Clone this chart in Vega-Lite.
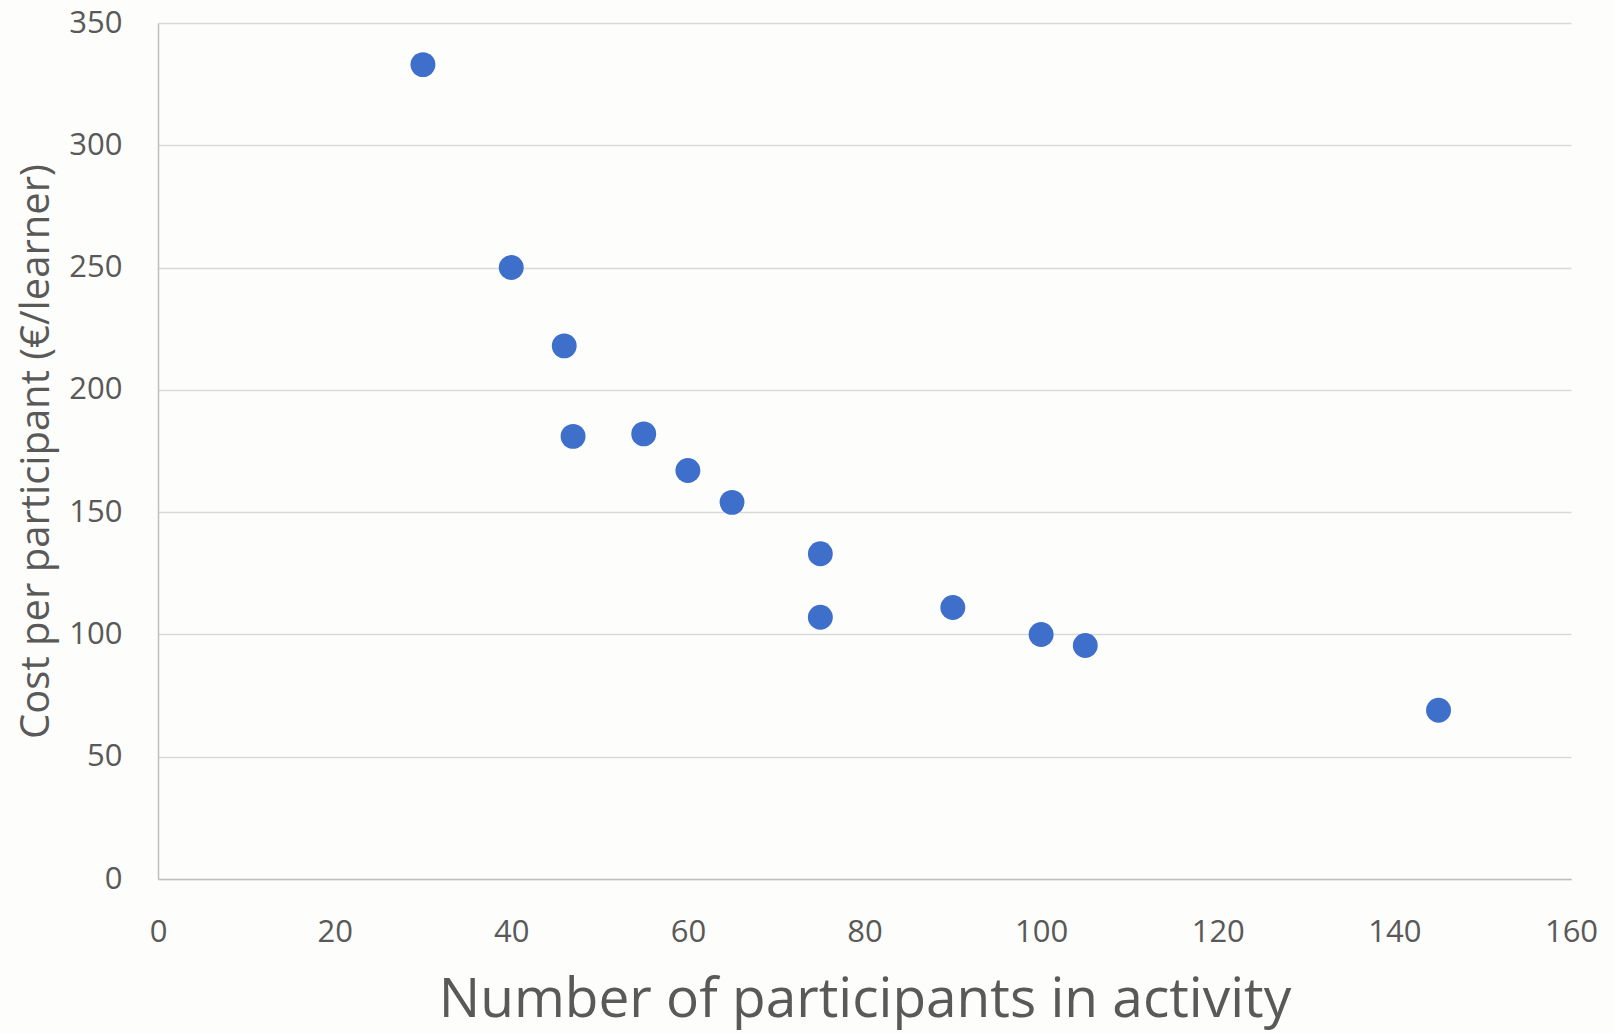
{
  "$schema": "https://vega.github.io/schema/vega-lite/v6.json",
  "autosize": "none",
  "width": 1413,
  "height": 856,
  "padding": {"left": 158, "top": 23, "right": 43, "bottom": 154},
  "background": "#fdfdfb",
  "config": {
    "view": {"stroke": null},
    "font": "Open Sans",
    "axis": {
      "labelFont": "Open Sans",
      "titleFont": "Open Sans",
      "labelColor": "#595959",
      "titleColor": "#595959",
      "titleFontWeight": "normal",
      "gridColor": "#d9d9d9",
      "gridWidth": 1.5,
      "domainColor": "#bfbfbf",
      "domainWidth": 1.5,
      "ticks": false
    }
  },
  "data": {
    "values": [
      {"participants": 30, "cost": 333},
      {"participants": 40, "cost": 250},
      {"participants": 46, "cost": 218},
      {"participants": 47, "cost": 181},
      {"participants": 55, "cost": 182},
      {"participants": 60, "cost": 167},
      {"participants": 65, "cost": 154},
      {"participants": 75, "cost": 133},
      {"participants": 75, "cost": 107},
      {"participants": 90, "cost": 111},
      {"participants": 100, "cost": 100},
      {"participants": 105, "cost": 95.5},
      {"participants": 145, "cost": 69}
    ]
  },
  "mark": {"type": "point", "filled": true, "size": 620, "opacity": 1, "color": "#3e6fca"},
  "encoding": {
    "x": {
      "field": "participants",
      "type": "quantitative",
      "scale": {"domain": [0, 160], "nice": false, "zero": true},
      "axis": {
        "title": "Number of participants in activity",
        "values": [0, 20, 40, 60, 80, 100, 120, 140, 160],
        "grid": false,
        "labelFontSize": 31,
        "labelPadding": 38,
        "titleFontSize": 55,
        "titlePadding": 26,
        "labelFlush": false
      }
    },
    "y": {
      "field": "cost",
      "type": "quantitative",
      "scale": {"domain": [0, 350], "nice": false},
      "axis": {
        "title": "Cost per participant (€/learner)",
        "values": [0, 50, 100, 150, 200, 250, 300, 350],
        "grid": true,
        "labelFontSize": 31,
        "labelPadding": 36,
        "titleFontSize": 40,
        "titlePadding": 12,
        "labelFlush": false
      }
    }
  }
}
